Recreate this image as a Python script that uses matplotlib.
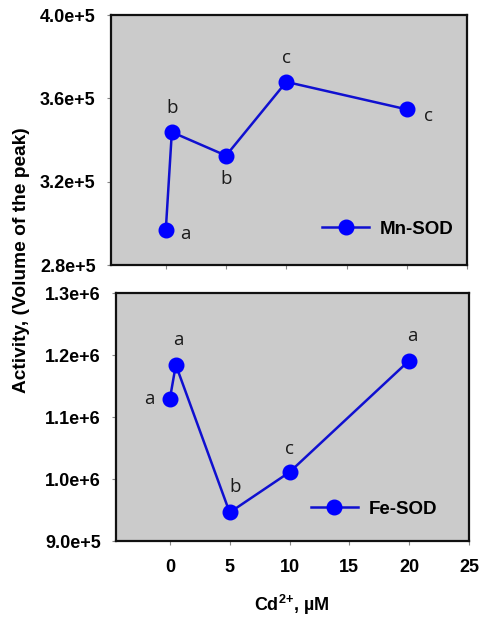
import matplotlib
matplotlib.use("Agg")
import matplotlib.pyplot as plt

# Data
cd_conc = [0, 0.5, 5, 10, 20]
mn_sod = [2.97e5, 3.438e5, 3.325e5, 3.679e5, 3.547e5]
mn_letters = ["a", "b", "b", "c", "c"]
fe_sod = [1.129e6, 1.184e6, 0.946e6, 1.011e6, 1.191e6]
fe_letters = ["a", "a", "b", "c", "a"]
mn_yticks = [2.8e5, 3.2e5, 3.6e5, 4.0e5]
mn_yticklabels = ["2.8e+5", "3.2e+5", "3.6e+5", "4.0e+5"]
fe_yticks = [0.9e6, 1.0e6, 1.1e6, 1.2e6, 1.3e6]
fe_yticklabels = ["9.0e+5", "1.0e+6", "1.1e+6", "1.2e+6", "1.3e+6"]
xticks = [0, 5, 10, 15, 20, 25]

plt.rcParams['font.family'] = ['Liberation Sans', 'DejaVu Sans']
plt.rcParams['mathtext.fontset'] = 'custom'
plt.rcParams['mathtext.rm'] = 'Liberation Sans'
plt.rcParams['mathtext.bf'] = 'Liberation Sans:bold'

fig = plt.figure(figsize=(4.82, 6.2), dpi=100)
W, H = 482, 620
def box(l, t, r, b):
    return [l / W, 1 - b / H, (r - l) / W, (b - t) / H]

ax1 = fig.add_axes(box(111, 15, 467, 265))
ax2 = fig.add_axes(box(116, 293, 469, 541))

bg = "#cbcbcb"
line_c = "#1010d0"
mark_c = "#0000ff"

letter_font = dict(family=['Open Sans', 'DejaVu Sans'], fontsize=13.5, color="#1a1a1a")

def style(ax):
    ax.set_facecolor(bg)
    for s in ax.spines.values():
        s.set_linewidth(1.6)
        s.set_color("#111111")
    ax.tick_params(axis='both', direction='out', length=3, width=0.8, color="#888888")
    ax.tick_params(axis='y', pad=8)
    for lab in ax.get_yticklabels() + ax.get_xticklabels():
        lab.set_fontweight('bold')
        lab.set_fontsize(13)

leg_kw = dict(frameon=False, handlelength=2.5, handletextpad=0.6,
              borderpad=0, borderaxespad=0, loc='center left',
              prop=dict(weight='bold', size=13.5))

# Top: Mn-SOD
ax1.plot(cd_conc, mn_sod, color=line_c, lw=1.8, marker='o', ms=10.5,
         mfc=mark_c, mec=mark_c, label="Mn-SOD")
ax1.set_xlim(-4.55, 25)
ax1.set_ylim(2.8e5, 4.0e5)
ax1.set_yticks(mn_yticks)
ax1.set_yticklabels(mn_yticklabels)
ax1.set_xticks(xticks)
ax1.set_xticklabels([])
mn_offsets = [(14, -3), (0, 17), (0, -17), (0, 17), (16, -5)]
for x, y, t, (dx, dy) in zip(cd_conc, mn_sod, mn_letters, mn_offsets):
    ax1.annotate(t, (x, y), xytext=(dx, dy), textcoords='offset points',
                 ha='center', va='center', **letter_font)
style(ax1)
ax1.legend(bbox_to_anchor=(0.593, 0.144), **leg_kw)

# Bottom: Fe-SOD
ax2.plot(cd_conc, fe_sod, color=line_c, lw=1.8, marker='o', ms=10.5,
         mfc=mark_c, mec=mark_c, label="Fe-SOD")
ax2.set_xlim(-4.5, 25)
ax2.set_ylim(0.9e6, 1.3e6)
ax2.set_yticks(fe_yticks)
ax2.set_yticklabels(fe_yticklabels)
ax2.set_xticks(xticks)
ax2.set_xticklabels([str(v) for v in xticks])
style(ax2)
ax2.tick_params(axis='x', pad=10)
fe_offsets = [(-15, 0), (2, 18), (4, 18), (0, 17), (2, 18)]
for x, y, t, (dx, dy) in zip(cd_conc, fe_sod, fe_letters, fe_offsets):
    ax2.annotate(t, (x, y), xytext=(dx, dy), textcoords='offset points',
                 ha='center', va='center', **letter_font)
ax2.legend(bbox_to_anchor=(0.552, 0.129), **leg_kw)

fig.text(292 / W, 1 - 605 / H, r"Cd$^{\mathbf{2{+}}}$, µM", ha='center', va='center',
         fontsize=13, fontweight='bold')

fig.text(22 / W, 1 - 260 / H, "Activity, (Volume of the peak)", rotation=90,
         ha='center', va='center', fontsize=13.8, fontweight='bold')

fig.savefig("out.png", dpi=100, facecolor='white')
